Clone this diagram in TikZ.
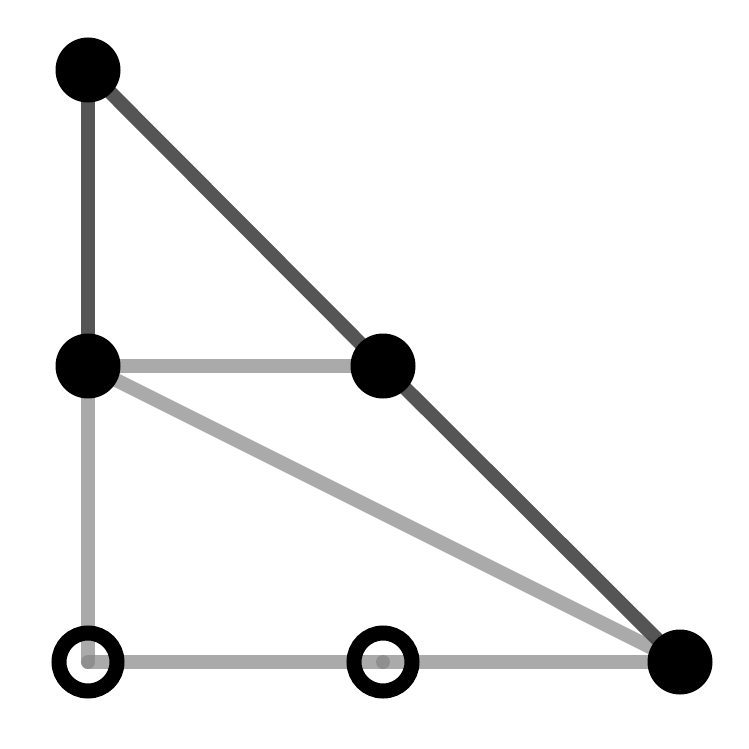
\documentclass[tikz,border=0pt]{standalone}
\begin{document}
\begin{tikzpicture}[x=1pt,y=-1pt,
  lightedge/.style={line width=14pt,line cap=round,draw={rgb,255:red,130;green,130;blue,130},draw opacity=0.68},
  darkedge/.style={line width=14pt,line cap=round,draw={rgb,255:red,66;green,66;blue,66},draw opacity=0.9},
  fullpt/.style={circle,fill=black,inner sep=0pt,minimum size=65pt},
  openpt/.style={circle,draw=black,line width=15pt,inner sep=0pt,minimum size=58pt}]
\useasboundingbox (0,0) rectangle (749,749);
\coordinate (ac) at (88,70);
\coordinate (bc) at (88,366);
\coordinate (cc) at (383,366);
\coordinate (dc) at (680,662);
\coordinate (ec) at (88,662);
\coordinate (fc) at (383,662);
\draw[lightedge] (bc) -- (cc);
\draw[lightedge] (bc) -- (dc);
\draw[lightedge] (bc) -- (ec);
\draw[lightedge] (ec) -- (fc);
\draw[lightedge] (fc) -- (dc);
\draw[darkedge] (ac) -- (bc);
\draw[darkedge] (ac) -- (cc);
\draw[darkedge] (cc) -- (dc);
\node[fullpt] (a) at (ac) {};
\node[fullpt] (b) at (bc) {};
\node[fullpt] (c) at (cc) {};
\node[fullpt] (d) at (dc) {};
\node[openpt] (e) at (ec) {};
\node[openpt] (f) at (fc) {};
\end{tikzpicture}
\end{document}
